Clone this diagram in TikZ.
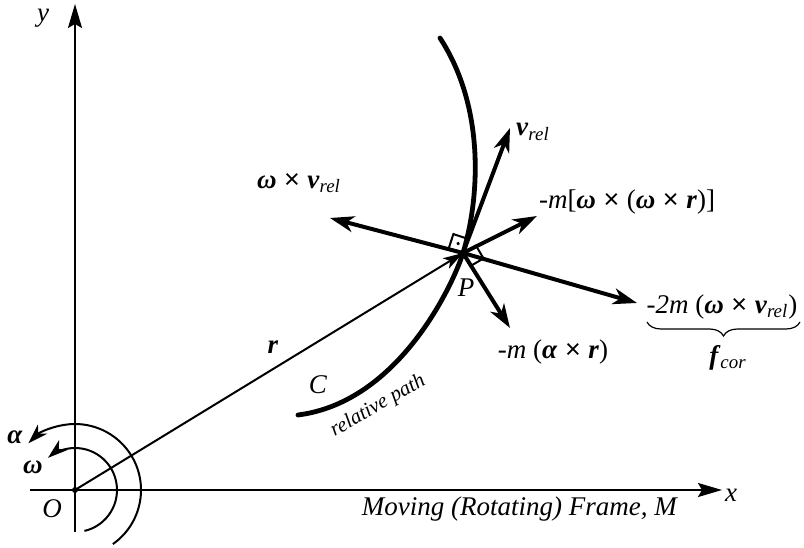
\documentclass[tikz,border=0pt]{standalone}
\usepackage{fontspec}
\setmainfont{Liberation Serif}
\usetikzlibrary{arrows.meta,decorations.pathreplacing}
\newcommand{\vecb}[1]{\textbf{\textit{#1}}}
\newcommand{\subit}[1]{\textsubscript{\textit{#1}}}
\newcommand{\crs}{\hspace{0.28em}{\fontspec{Liberation Sans}×}\hspace{0.28em}}
\begin{document}
\begin{tikzpicture}[x=0.5pt, y=0.5pt,
  axis/.style={line width=1pt, -{Stealth[length=12pt,width=7pt,inset=2pt]}},
  force/.style={line width=2pt, -{Stealth[length=12pt,width=8pt,inset=3.5pt]}},
  spin/.style={line width=1pt, -{Stealth[length=10pt,width=6.5pt,inset=3pt]}},
  lbl/.style={font=\fontsize{13.5}{16}\selectfont, inner sep=0pt}]
\useasboundingbox (0,0) rectangle (804,547);
\coordinate (O) at (75,57);
\coordinate (P) at (463,294);
% axes
\coordinate (ybot) at (75,15);
\coordinate (ytop) at (75,543);
\coordinate (xbot) at (30,57);
\coordinate (xtop) at (722,57);
\draw[axis] (ybot) -- (ytop);
\draw[axis] (xbot) -- (xtop);
\node[lbl] (ylab) at (43,529) {\textit{y}};
\node[lbl] (xlab) at (731,52) {\textit{x}};
\node[lbl] (Olab) at (52,38) {\textit{O}};
\node[lbl] (frame) at (520,38) {\textit{Moving (Rotating) Frame, M}};
\fill (O) circle (3);
% angular velocity and acceleration
\draw[spin] (O) ++(-55:66) arc[start angle=-55, end angle=135, radius=66];
\draw[spin] (O) ++(-77:42) arc[start angle=-77, end angle=130, radius=42];
\node[lbl] (alab) at (15,110) {\vecb{α}};
\node[lbl] (wlab) at (33,80) {\vecb{ω}};
% position vector
\draw[line width=1pt, -{Stealth[length=10pt,width=6pt,inset=2.5pt]}] (O) -- (P);
\node[lbl] (rlab) at (273,200) {\vecb{r}};
% relative path C
\coordinate (Cbot) at (298,132);
\coordinate (Ctop) at (440,509);
\draw[line width=2.4pt, line cap=round] (Cbot) .. controls (400,145) and (454,265) .. (P)
  .. controls (480,350) and (485,440) .. (Ctop);
\node[lbl] (Clab) at (318,162) {\textit{C}};
\node[lbl, font=\fontsize{10.5}{12}\selectfont, rotate=30] (path) at (378,141) {\textit{relative path}};
% vectors at P
\coordinate (vr) at (510,419);
\coordinate (wv) at (330,329);
\coordinate (cen) at (537,331);
\coordinate (cor) at (637,244);
\coordinate (tan) at (510,219);
\draw[force] (P) -- (vr);
\draw[force] (P) -- (wv);
\draw[force] (P) -- (cen);
\draw[force] (P) -- (cor);
\draw[force] (P) -- (tan);
% right angles
\draw[line width=1pt, shift={(P)}, rotate=72] (0,0) rectangle (15,15);
\fill[shift={(P)}, rotate=72] (7.5,7.5) circle (1.8);
\draw[line width=1pt, shift={(P)}, rotate=-60] (0,0) rectangle (15,15);
\fill[shift={(P)}, rotate=-60] (7.5,7.5) circle (1.8);
\node[lbl] (Plab) at (466,259) {\textit{P}};
\node[lbl] (vrlab) at (533,415) {\vecb{v}\subit{rel}};
\node[lbl] (wvlab) at (299,364) {\vecb{ω}\crs\vecb{v}\subit{rel}};
\node[lbl] (cenlab) at (627,345) {\textit{-m}[\vecb{ω}\crs(\vecb{ω}\crs\vecb{r})]};
\node[lbl] (corlab) at (722,240) {\textit{-2m} (\vecb{ω}\crs\vecb{v}\subit{rel})};
\node[lbl] (tanlab) at (553,195) {\textit{-m} (\vecb{α}\crs\vecb{r})};
\draw[line width=0.6pt, decorate, decoration={brace, mirror, amplitude=7pt}] (647,225) -- (800,225);
\node[lbl] (fcor) at (728,189) {\vecb{f}\subit{cor}};
\end{tikzpicture}
\end{document}
